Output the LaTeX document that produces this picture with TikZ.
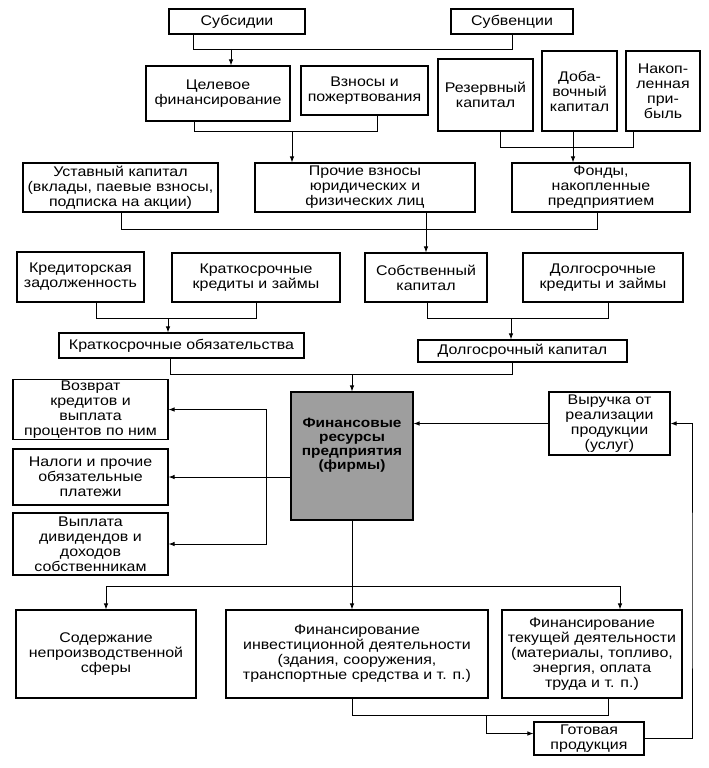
\documentclass[tikz,border=0pt]{standalone}
\usepackage{fontspec}
\setmainfont[FakeStretch=1.14]{Liberation Sans}
\usetikzlibrary{arrows.meta,calc}
\begin{document}
\begin{tikzpicture}[x=1pt,y=-1pt,
  box/.style={draw, line width=1.1pt, align=center, inner sep=1pt,
    font=\fontsize{14}{15}\selectfont},
  conn/.style={line width=0.9pt},
  arr/.style={conn, -{Latex[length=6pt,width=4.5pt]}}]
\useasboundingbox (0,0) rectangle (709,768);
% row 1
\node[box, minimum width=136, minimum height=25] (subs) at (237,21.5) {Субсидии};
\node[box, minimum width=122, minimum height=25] (subv) at (512,21.5) {Субвенции};
% row 2
\node[box, minimum width=144, minimum height=55] (celev) at (218,93.5) {Целевое\\финансирование};
\node[box, minimum width=127, minimum height=49] (vznosy) at (364.5,90.5) {Взносы и\\пожертвования};
\node[box, minimum width=95, minimum height=72] (rezerv) at (485.5,95) {Резервный\\капитал};
\node[box, minimum width=75, minimum height=80] (dobav) at (579.5,91) {Доба-\\вочный\\капитал};
\node[box, minimum width=74, minimum height=80] (nakop) at (663,91) {Накоп-\\ленная\\при-\\быль};
% row 3
\node[box, minimum width=195, minimum height=49] (ustav) at (120.5,187.5) {Уставный капитал\\(вклады, паевые взносы,\\подписка на акции)};
\node[box, minimum width=220, minimum height=49] (prochie) at (365,187.5) {Прочие взносы\\юридических и\\физических лиц};
\node[box, minimum width=178, minimum height=49] (fondy) at (601,187.5) {Фонды,\\накопленные\\предприятием};
% row 4
\node[box, minimum width=127, minimum height=50] (kredit) at (80.5,277) {Кредиторская\\задолженность};
\node[box, minimum width=168, minimum height=49] (kratkred) at (256,277.5) {Краткосрочные\\кредиты и займы};
\node[box, minimum width=122, minimum height=49] (sobstv) at (426,277.5) {Собственный\\капитал};
\node[box, minimum width=160, minimum height=49] (dolgkred) at (603,277.5) {Долгосрочные\\кредиты и займы};
% row 5
\node[box, minimum width=245, minimum height=25] (kratob) at (181.5,345.5) {Краткосрочные обязательства};
\node[box, minimum width=209, minimum height=22] (dolgkap) at (522.5,351) {Долгосрочный капитал};
% middle
\node[box, minimum width=122, minimum height=128, fill=black!38] (fin) at (352,456) {};
\node[align=center, font=\fontsize{13.5}{14}\selectfont\bfseries] (fintext) at (352,445) {Финансовые\\ресурсы\\предприятия\\(фирмы)};
\node[box, minimum width=155, minimum height=59] (vozvrat) at (90.5,409.5) {Возврат\\кредитов и\\выплата\\процентов по ним};
\node[box, minimum width=155, minimum height=56] (nalogi) at (90.5,477) {Налоги и прочие\\обязательные\\платежи};
\node[box, minimum width=155, minimum height=62] (vyplata) at (90.5,544) {Выплата\\дивидендов и\\доходов\\собственникам};
\node[box, minimum width=121, minimum height=63] (vyruchka) at (609.5,423.5) {Выручка от\\реализации\\продукции\\(услуг)};
% bottom
\node[box, minimum width=180, minimum height=88] (soderzh) at (106,654) {Содержание\\непроизводственной\\сферы};
\node[box, minimum width=262, minimum height=88] (invest) at (357,654) {Финансирование\\инвестиционной деятельности\\(здания, сооружения,\\транспортные средства и т. п.)};
\node[box, minimum width=180, minimum height=88] (tekush) at (592,654) {Финансирование\\текущей деятельности\\(материалы, топливо,\\энергия, оплата\\труда и т. п.)};
\node[box, minimum width=110, minimum height=33] (gotov) at (589,738.5) {Готовая\\продукция};

% junction coordinates
\coordinate (j1) at (231,49);
\coordinate (j2) at (292,131);
\coordinate (j3) at (573,131);
\coordinate (j5) at (168,318);
\coordinate (j6) at (511,318);
\coordinate (j7) at (352,374);
\coordinate (j8) at (266,477);
\coordinate (j9) at (352,586);
\coordinate (j10) at (620,586);
\coordinate (j11) at (486,715);
\coordinate (jr) at (692,600);

% connectors
\draw[conn] ($(subs.south)+(-44,0)$) -- ++(0,15) -| (subv.south);
\draw[arr] (j1) -- (j1 |- celev.north);

\draw[conn] ($(celev.south)+(-24,0)$) -- ++(0,10) -| ($(vznosy.south)+(12.5,0)$);
\draw[arr] (j2) -- (j2 |- prochie.north);

\draw[conn] ($(rezerv.south)+(14.5,0)$) -- ++(0,16) -| ($(nakop.south)+(-30,0)$);
\draw[arr] (j3) -- (j3 |- fondy.north);

\draw[conn] ($(ustav.south)+(0.5,0)$) -- ++(0,17) -| ($(fondy.south)+(-4,0)$);
\draw[arr] (prochie.south -| sobstv.north) -- (sobstv.north);

\draw[conn] ($(kredit.south)+(15.5,0)$) -- ++(0,16) -| (kratkred.south);
\draw[arr] (j5) -- (j5 |- kratob.north);

\draw[conn] ($(sobstv.south)+(1,0)$) -- ++(0,16) -| ($(dolgkred.south)+(5,0)$);
\draw[arr] (j6) -- (j6 |- dolgkap.north);

\draw[conn] ($(kratob.south)+(-11.5,0)$) -- ++(0,16) -| ($(dolgkap.south)+(-10.5,0)$);
\draw[arr] (j7) -- (fin.north);

\draw[arr] (fin.west |- nalogi.east) -- (nalogi.east);
\draw[arr] (j8) |- (vozvrat.east);
\draw[arr] (j8) |- (vyplata.east);

\draw[arr] (vyruchka.west) -- (fin.east |- vyruchka.west);

\draw[arr] (fin.south) -- (fin.south |- invest.north);
\draw[arr] (j9) -| (soderzh.north);
\draw[arr] (j9) -- (j10) -- (j10 |- tekush.north);

\draw[conn] ($(invest.south)+(-5,0)$) -- ++(0,17) -| ($(tekush.south)+(16,0)$);
\draw[arr] (j11) |- ($(gotov.west)+(0,-5)$);

\draw[arr] (gotov.east) -| (jr) |- (vyruchka.east);
\end{tikzpicture}
\end{document}
